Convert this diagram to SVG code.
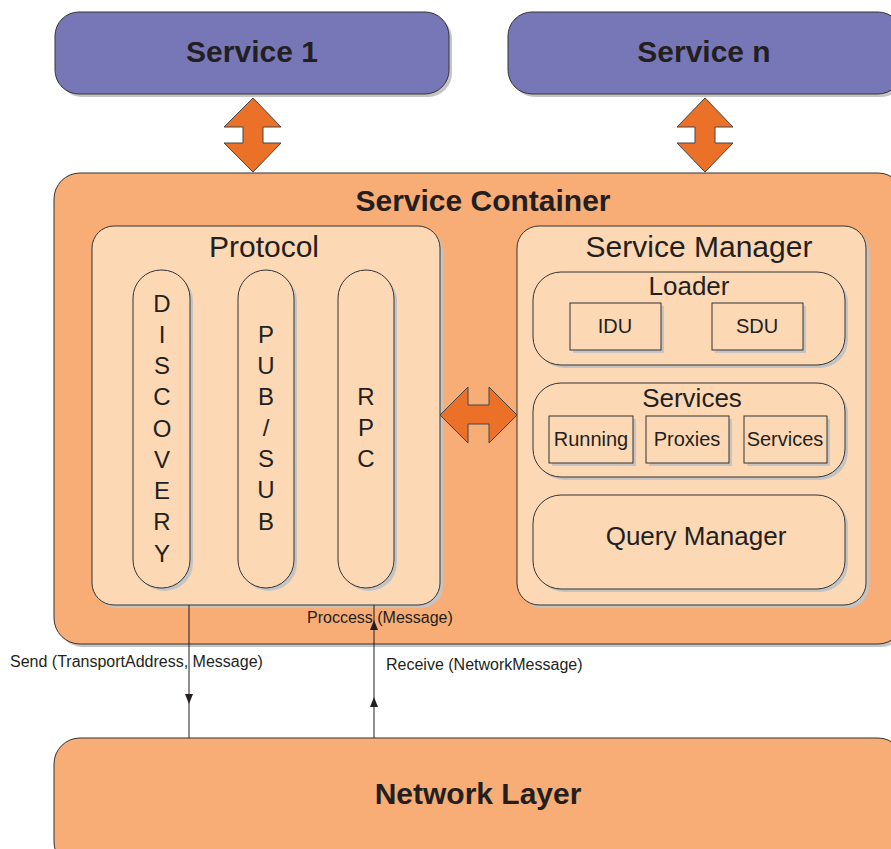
<svg xmlns="http://www.w3.org/2000/svg" width="891" height="849" viewBox="0 0 891 849">
<style>
.sh{fill:#c4c4c4}
.svc{fill:#7777b8;stroke:#333;stroke-width:1}
.cont{fill:#f7ad75;stroke:#333;stroke-width:1}
.inner{fill:#fdd8b5;stroke:#333;stroke-width:1}
.arr{fill:#ec7128;stroke:#444;stroke-width:1}
text{font-family:"Liberation Sans",Arial,sans-serif;fill:#231f20;text-anchor:middle}
.bt{font-weight:bold;font-size:30px}
.t29{font-size:30px}
.t25{font-size:26px}
.t24{font-size:24px}
.t19{font-size:20px}
.lbl{font-size:16px;text-anchor:start}
.ln{stroke:#231f20;stroke-width:1;fill:none}
.ah{fill:#231f20}
</style>
<g id="service1">
<rect class="sh" x="58" y="15" width="394" height="82" rx="24"/>
<rect class="svc" x="55" y="12" width="394" height="82" rx="24"/>
<text class="bt" x="252" y="62">Service 1</text>
</g>
<g id="servicen">
<rect class="sh" x="511" y="15" width="394" height="82" rx="24"/>
<rect class="svc" x="508" y="12" width="394" height="82" rx="24"/>
<text class="bt" x="704" y="62">Service n</text>
</g>
<g id="container">
<rect class="sh" x="57" y="176" width="850" height="471" rx="26"/>
<rect class="cont" x="54" y="173" width="850" height="471" rx="26"/>
<text class="bt" x="483" y="211">Service Container</text>
</g>
<g id="network">
<rect class="cont" x="54" y="738" width="850" height="130" rx="26"/>
<text class="bt" x="478" y="804">Network Layer</text>
</g>
<g id="protocol">
<rect class="sh" x="95" y="229" width="348" height="379" rx="22"/>
<rect class="inner" x="92" y="226" width="348" height="379" rx="22"/>
<text class="t29" x="264" y="257">Protocol</text>
</g>
<g id="discovery">
<rect class="sh" x="136" y="273" width="57" height="318" rx="28"/>
<rect class="inner" x="133" y="270" width="57" height="318" rx="28"/>
<text class="t24" x="162"><tspan x="162" y="312">D</tspan><tspan x="162" y="343">I</tspan><tspan x="162" y="374">S</tspan><tspan x="162" y="405">C</tspan><tspan x="162" y="437">O</tspan><tspan x="162" y="468">V</tspan><tspan x="162" y="499">E</tspan><tspan x="162" y="530">R</tspan><tspan x="162" y="562">Y</tspan></text>
</g>
<g id="pubsub">
<rect class="sh" x="241" y="273" width="56" height="318" rx="28"/>
<rect class="inner" x="238" y="270" width="56" height="318" rx="28"/>
<text class="t24" x="266"><tspan x="266" y="343">P</tspan><tspan x="266" y="374">U</tspan><tspan x="266" y="405">B</tspan><tspan x="266" y="436">/</tspan><tspan x="266" y="467">S</tspan><tspan x="266" y="498">U</tspan><tspan x="266" y="530">B</tspan></text>
</g>
<g id="rpc">
<rect class="sh" x="341" y="273" width="56" height="318" rx="28"/>
<rect class="inner" x="338" y="270" width="56" height="318" rx="28"/>
<text class="t24" x="366"><tspan x="366" y="405">R</tspan><tspan x="366" y="436">P</tspan><tspan x="366" y="467">C</tspan></text>
</g>
<g id="servicemanager">
<rect class="sh" x="520" y="229" width="349" height="379" rx="22"/>
<rect class="inner" x="517" y="226" width="349" height="379" rx="22"/>
<text class="t29" x="699" y="257">Service Manager</text>
</g>
<g id="loader">
<rect class="sh" x="536" y="275" width="312" height="93" rx="28"/>
<rect class="inner" x="533" y="272" width="312" height="93" rx="28"/>
<text class="t25" x="689" y="295">Loader</text>
</g>
<g id="idu">
<rect class="sh" x="573" y="306" width="91" height="47"/>
<rect class="inner" x="570" y="303" width="91" height="47"/>
<text class="t19" x="615" y="333">IDU</text>
</g>
<g id="sdu">
<rect class="sh" x="715" y="306" width="91" height="47"/>
<rect class="inner" x="712" y="303" width="91" height="47"/>
<text class="t19" x="757" y="333">SDU</text>
</g>
<g id="services">
<rect class="sh" x="536" y="386" width="312" height="94" rx="28"/>
<rect class="inner" x="533" y="383" width="312" height="94" rx="28"/>
<text class="t25" x="692" y="407">Services</text>
</g>
<g id="running">
<rect class="sh" x="552" y="419" width="84" height="47"/>
<rect class="inner" x="549" y="416" width="84" height="47"/>
<text class="t19" x="591" y="446">Running</text>
</g>
<g id="proxies">
<rect class="sh" x="649" y="419" width="83" height="47"/>
<rect class="inner" x="646" y="416" width="83" height="47"/>
<text class="t19" x="687" y="446">Proxies</text>
</g>
<g id="services2">
<rect class="sh" x="747" y="419" width="83" height="47"/>
<rect class="inner" x="744" y="416" width="83" height="47"/>
<text class="t19" x="785" y="446">Services</text>
</g>
<g id="querymanager">
<rect class="sh" x="536" y="498" width="312" height="94" rx="28"/>
<rect class="inner" x="533" y="495" width="312" height="94" rx="28"/>
<text class="t25" x="696" y="545">Query Manager</text>
</g>
<g id="connectors">
<polygon class="arr" points="253,98 281,127 263,127 263,143 281,143 253,172 224,143 243,143 243,127 224,127"/>
<polygon class="arr" points="705,98 733,127 715,127 715,143 733,143 705,172 677,143 695,143 695,127 677,127"/>
<polygon class="arr" points="440,415 468,387 468,405 489,405 489,387 517,415 489,443 489,424 468,424 468,443"/>
<line class="ln" x1="189" y1="605" x2="189" y2="738"/>
<polygon class="ah" points="185,694 193,694 189,704"/>
<line class="ln" x1="374" y1="605" x2="374" y2="738"/>
<polygon class="ah" points="370,707 378,707 374,697"/>
<polygon class="ah" points="370,630 378,630 374,620"/>
<text class="lbl" x="307" y="623">Proccess (Message)</text>
<text class="lbl" x="10" y="667">Send (TransportAddress, Message)</text>
<text class="lbl" x="386" y="670">Receive (NetworkMessage)</text>
</g>
</svg>
